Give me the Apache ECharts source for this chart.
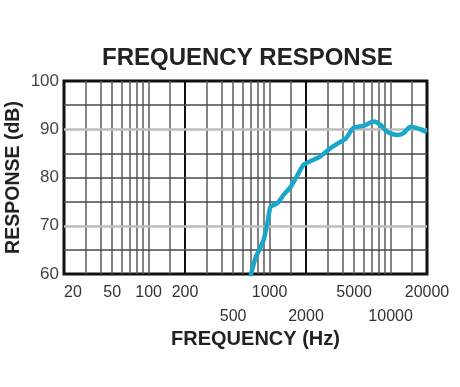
<!DOCTYPE html>
<html>
<head>
<meta charset="utf-8">
<script src="https://cdn.jsdelivr.net/npm/echarts@6/dist/echarts.min.js"></script>
<style>html,body{margin:0;padding:0;background:#fff;}#c{width:460px;height:387px;}</style>
</head>
<body>
<div id="c"></div>
<script>
// Data
const freqHz = [690, 765, 891, 961, 1018, 1164, 1304, 1490, 1702, 1906, 2264, 2636, 3190, 3860, 4240, 4950, 5970, 7230, 8260, 9440, 11400, 12800, 14600, 17600, 20000];
const responseDb = [59.2, 63.3, 67.0, 70.6, 73.9, 74.7, 76.4, 78.0, 80.5, 82.6, 83.6, 84.4, 86.1, 87.4, 88.0, 90.3, 90.7, 91.6, 90.9, 89.4, 88.8, 89.2, 90.5, 90.0, 89.4];
const xUpperRowLabels = [20, 50, 100, 200, 1000, 5000, 20000];
const xLowerRowLabels = [500, 2000, 10000];
const xMinorLines = [30, 40, 50, 60, 70, 80, 90, 100, 150, 300, 400, 500, 600, 700, 800, 900, 1000, 1500, 3000, 4000, 5000, 6000, 7000, 8000, 9000, 10000, 15000];
const xMajorLines = [200, 2000];
const yDarkLines = [65, 75, 80, 85, 95];
const yLightLines = [70, 90];

const font = 'Liberation Sans, Arial, Helvetica, sans-serif';
const gridMarks = [];
xMinorLines.forEach(v => gridMarks.push({xAxis: v, lineStyle: {color: '#5a5a5a', width: 1.5, type: 'solid'}}));
xMajorLines.forEach(v => gridMarks.push({xAxis: v, lineStyle: {color: '#111', width: 2, type: 'solid'}}));
yLightLines.forEach(v => gridMarks.push({yAxis: v, lineStyle: {color: '#bdbdbd', width: 2.5, type: 'solid'}}));
yDarkLines.forEach(v => gridMarks.push({yAxis: v, lineStyle: {color: '#4a4a4a', width: 1.5, type: 'solid'}}));

const labelStyle = {fontFamily: font, fontSize: 16, color: '#333', margin: 11,
  showMaxLabel: true, showMinLabel: true, hideOverlap: false,
  formatter: v => String(Math.round(v))};

const chart = echarts.init(document.getElementById('c'), null, {renderer: 'canvas'});
chart.setOption({
  animation: false,
  backgroundColor: '#fff',
  title: {
    text: 'FREQUENCY RESPONSE', left: 97, top: 41,
    textStyle: {fontFamily: font, fontSize: 24, fontWeight: 'bold', color: '#222'}
  },
  grid: {left: 64, right: 33, top: 81, bottom: 113, show: true, borderColor: '#111', borderWidth: 3,
    backgroundColor: 'transparent', containLabel: false, outerBoundsMode: 'none'},
  xAxis: [{
    type: 'log', logBase: 10, min: 20, max: 20000, position: 'bottom',
    name: 'FREQUENCY (Hz)', nameLocation: 'middle', nameGap: 55,
    nameTextStyle: {fontFamily: font, fontSize: 20, fontWeight: 'bold', color: '#222', padding: [0, 0, 0, 20]},
    axisLine: {show: false}, axisTick: {show: false},
    splitLine: {show: false}, minorSplitLine: {show: false},
    axisLabel: Object.assign({customValues: xUpperRowLabels, alignMinLabel: 'left'}, labelStyle)
  }, {
    type: 'log', logBase: 10, min: 20, max: 20000, position: 'bottom', offset: 24,
    axisLine: {show: false}, axisTick: {show: false},
    splitLine: {show: false}, minorSplitLine: {show: false},
    axisLabel: Object.assign({customValues: xLowerRowLabels}, labelStyle)
  }],
  yAxis: {
    type: 'value', min: 60, max: 100, interval: 5,
    name: 'RESPONSE (dB)', nameLocation: 'middle', nameGap: 40, nameRotate: 90, nameMoveOverlap: false,
    nameTextStyle: {fontFamily: font, fontSize: 19.5, fontWeight: 'bold', color: '#222'},
    axisLine: {show: false}, axisTick: {show: false}, splitLine: {show: false},
    axisLabel: {fontFamily: font, fontSize: 17, color: '#444', margin: 5,
      formatter: v => (v % 10 === 0 ? String(v) : '')}
  },
  series: [
    {
      type: 'line', data: [], z: 1, silent: true,
      markLine: {silent: true, symbol: 'none', label: {show: false}, animation: false, data: gridMarks}
    },
    {
      type: 'line', z: 5, showSymbol: false, smooth: 0.2, clip: true,
      data: freqHz.map((f, i) => [f, responseDb[i]]),
      lineStyle: {color: '#19a7c9', width: 4.5}, itemStyle: {color: '#19a7c9'}
    }
  ]
});
</script>
</body>
</html>
